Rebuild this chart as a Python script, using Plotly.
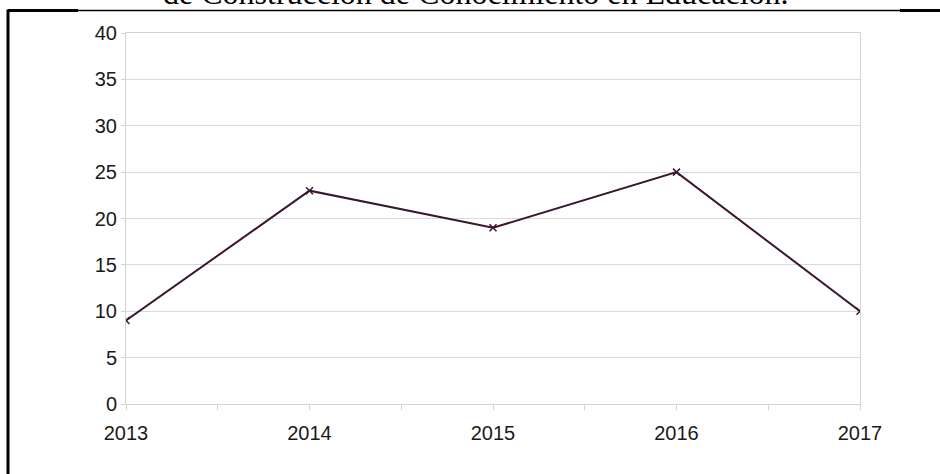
import plotly.graph_objects as go

years = [2013, 2014, 2015, 2016, 2017]
values = [9, 23, 19, 25, 10]
year_labels = ["2013", "2014", "2015", "2016", "2017"]
y_ticks = [0, 5, 10, 15, 20, 25, 30, 35, 40]
title_text = "de Construcción de Conocimiento en Educación."

W, H = 940, 474
L, R, T, B = 126, 80, 33, 70
PW, PH = W - L - R, H - T - B


def px(x):
    return (x - L) / PW


def py(y):
    return 1 - (y - T) / PH


fig = go.Figure()
fig.add_trace(go.Scatter(
    x=years, y=values, mode="lines+markers",
    line=dict(color="#3a1630", width=2),
    marker=dict(symbol="x-thin", size=7, line=dict(color="#3a1630", width=1.5)),
    showlegend=False,
))

axis_font = dict(family="Liberation Sans, Arial, sans-serif", size=20, color="#1a1a1a")

fig.update_layout(
    width=W, height=H,
    margin=dict(l=L, r=R, t=T, b=B),
    paper_bgcolor="white", plot_bgcolor="white",
    xaxis=dict(
        range=[2013, 2017], tickvals=years, ticktext=year_labels,
        showgrid=False, zeroline=False,
        showline=True, linecolor="#d4d4d4", linewidth=1, mirror=True,
        ticks="outside", ticklen=5, tickcolor="#d4d4d4",
        minor=dict(dtick=0.5, tick0=2013, ticks="outside", ticklen=5, tickcolor="#d4d4d4", showgrid=False),
        tickfont=axis_font, ticklabelstandoff=6,
    ),
    yaxis=dict(
        range=[0, 40], tickvals=y_ticks,
        showgrid=True, gridcolor="#dadada", gridwidth=1, zeroline=False,
        showline=True, linecolor="#d4d4d4", linewidth=1, mirror=True,
        ticks="outside", ticklen=4, tickcolor="#d4d4d4",
        tickfont=axis_font,
    ),
    annotations=[dict(
        text=title_text, xref="paper", yref="paper",
        x=px(476), y=py(13), xanchor="center", yanchor="bottom",
        showarrow=False,
        font=dict(family="Liberation Serif, Times New Roman, serif", size=32, color="black"),
    )],
    shapes=[
        dict(type="line", xref="paper", yref="paper", x0=px(8), x1=px(8), y0=py(9.5), y1=py(474),
             line=dict(color="black", width=3)),
        dict(type="line", xref="paper", yref="paper", x0=px(8), x1=px(78), y0=py(10.5), y1=py(10.5),
             line=dict(color="black", width=3)),
        dict(type="line", xref="paper", yref="paper", x0=px(78), x1=px(900), y0=py(10.5), y1=py(10.5),
             line=dict(color="black", width=1.3)),
        dict(type="line", xref="paper", yref="paper", x0=px(900), x1=px(940), y0=py(10.5), y1=py(10.5),
             line=dict(color="black", width=3)),
    ],
)

fig.write_html("out.html", config={"displayModeBar": False},
               post_script="document.body.style.margin='0';")
